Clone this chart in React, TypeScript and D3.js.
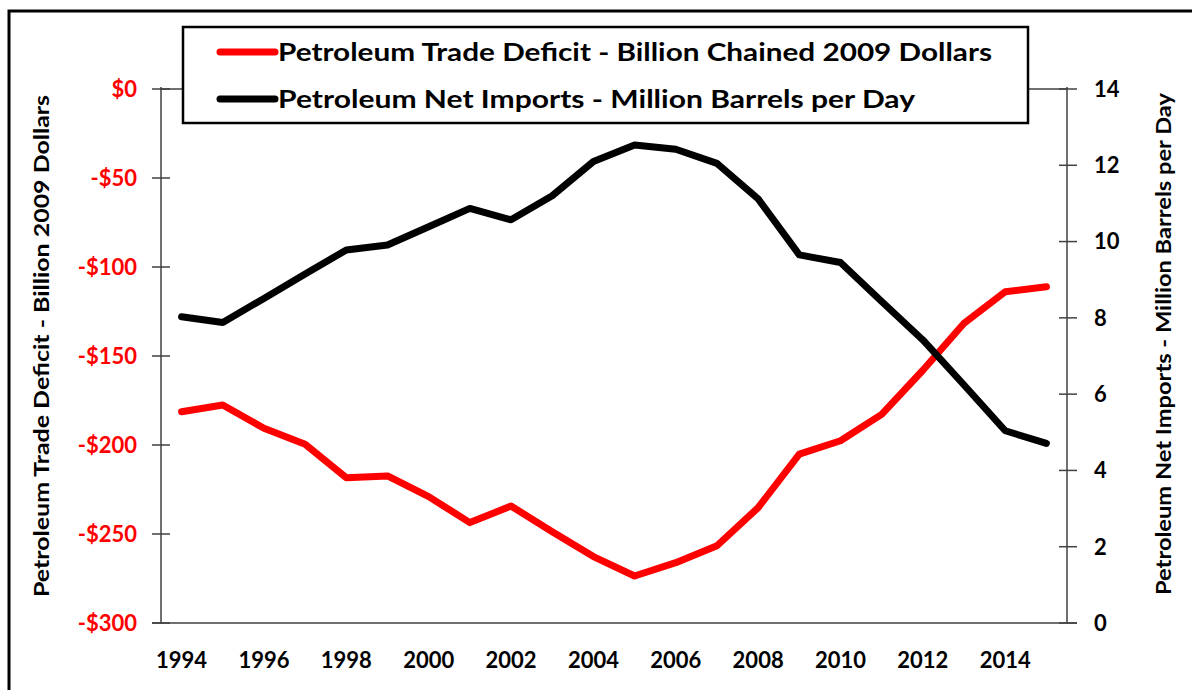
import * as d3 from "d3";

const years = [
  1994, 1995, 1996, 1997, 1998, 1999, 2000, 2001, 2002, 2003, 2004,
  2005, 2006, 2007, 2008, 2009, 2010, 2011, 2012, 2013, 2014, 2015,
];

// Petroleum trade deficit, billion chained 2009 dollars
const tradeDeficit = [
  -181.3, -177.5, -190.6, -199.6, -218.4, -217.4, -229.0, -243.6, -234.3, -248.7, -262.7,
  -273.6, -266.1, -256.6, -235.2, -205.1, -197.6, -182.8, -158.0, -131.6, -113.9, -111.1,
];

// Petroleum net imports, million barrels per day
const netImports = [
  8.03, 7.88, 8.51, 9.15, 9.78, 9.91, 10.39, 10.87, 10.57, 11.2, 12.1,
  12.53, 12.42, 12.05, 11.12, 9.65, 9.45, 8.43, 7.42, 6.24, 5.04, 4.71,
];

const leftTicks = [0, -50, -100, -150, -200, -250, -300];
const rightTicks = [0, 2, 4, 6, 8, 10, 12, 14];
const xLabelYears = [1994, 1996, 1998, 2000, 2002, 2004, 2006, 2008, 2010, 2012, 2014];

const FONT = "Lato, 'Noto Sans', sans-serif";

export default function App() {
  const width = 1192;
  const height = 690;
  const left = 161;
  const right = 1067;
  const top = 89;
  const bottom = 623;

  const x = d3
    .scaleBand<number>()
    .domain(years)
    .range([left, right]);
  const cx = (yr: number) => (x(yr) ?? 0) + x.bandwidth() / 2;

  const yL = d3.scaleLinear().domain([-300, 0]).range([bottom, top]);
  const yR = d3.scaleLinear().domain([0, 14]).range([bottom, top]);

  const redLine = d3
    .line<number>()
    .x((_, i) => cx(years[i]))
    .y((d) => yL(d));
  const blackLine = d3
    .line<number>()
    .x((_, i) => cx(years[i]))
    .y((d) => yR(d));

  const axisColor = "#404040";
  const fmtL = (v: number) => (v < 0 ? `-$${Math.abs(v)}` : `$${v}`);

  return (
    <svg
      width={width}
      height={height}
      style={{ position: "absolute", left: 0, top: 0, background: "#fff" }}
    >
      <rect x={9} y={11} width={1300} height={800} fill="#fff" stroke="#000" strokeWidth={3} />

      {/* axes */}
      <line x1={left} x2={right} y1={top} y2={top} stroke={axisColor} strokeWidth={1.5} />
      <line x1={152} x2={1077} y1={bottom} y2={bottom} stroke={axisColor} strokeWidth={1.5} />
      <line x1={left} x2={left} y1={top - 2} y2={bottom} stroke={axisColor} strokeWidth={1.5} />
      <line x1={right} x2={right} y1={top - 2} y2={bottom} stroke={axisColor} strokeWidth={1.5} />

      {leftTicks.map((t) => (
        <g key={"l" + t}>
          <line x1={152} x2={170} y1={yL(t)} y2={yL(t)} stroke={axisColor} strokeWidth={1.5} />
          <text
            x={137}
            y={yL(t)}
            dy="0.36em"
            textAnchor="end"
            fill="#ff0000"
            fontFamily={FONT}
            fontWeight="bold"
            fontSize={22}
          >
            {fmtL(t)}
          </text>
        </g>
      ))}

      {rightTicks.map((t) => (
        <g key={"r" + t}>
          <line x1={1059} x2={1077} y1={yR(t)} y2={yR(t)} stroke={axisColor} strokeWidth={1.5} />
          <text
            x={1094}
            y={yR(t)}
            dy="0.36em"
            textAnchor="start"
            fill="#000"
            fontFamily={FONT}
            fontWeight="bold"
            fontSize={22}
          >
            {t}
          </text>
        </g>
      ))}

      {xLabelYears.map((yr) => (
        <text
          key={"x" + yr}
          x={cx(yr)}
          y={668}
          textAnchor="middle"
          fill="#000"
          fontFamily={FONT}
          fontWeight="bold"
          fontSize={22}
        >
          {yr}
        </text>
      ))}

      {/* axis titles */}
      <text
        transform="translate(49,346) rotate(-90)"
        textAnchor="middle"
        fontFamily={FONT}
        fontWeight="bold"
        fontSize={21}
        fill="#000"
        textLength={502}
        lengthAdjust="spacingAndGlyphs"
      >
        Petroleum Trade Deficit - Billion 2009 Dollars
      </text>
      <text
        transform="translate(1171,344) rotate(-90)"
        textAnchor="middle"
        fontFamily={FONT}
        fontWeight="bold"
        fontSize={21}
        fill="#000"
        textLength={502}
        lengthAdjust="spacingAndGlyphs"
      >
        Petroleum Net Imports - Million Barrels per Day
      </text>

      {/* series */}
      <path d={redLine(tradeDeficit) ?? ""} fill="none" stroke="#ff0000" strokeWidth={7} strokeLinejoin="round" strokeLinecap="round" />
      <path d={blackLine(netImports) ?? ""} fill="none" stroke="#000" strokeWidth={7} strokeLinejoin="round" strokeLinecap="round" />

      {/* legend */}
      <rect x={183} y={27} width={845} height={96} fill="#fff" stroke="#000" strokeWidth={2.5} />
      <line x1={220} x2={275} y1={52} y2={52} stroke="#ff0000" strokeWidth={7} strokeLinecap="round" />
      <line x1={220} x2={275} y1={99} y2={99} stroke="#000" strokeWidth={7} strokeLinecap="round" />
      <text
        x={278}
        y={61}
        fontFamily={FONT}
        fontWeight="bold"
        fontSize={25}
        fill="#000"
        textLength={714}
        lengthAdjust="spacingAndGlyphs"
      >
        Petroleum Trade Deficit - Billion Chained 2009 Dollars
      </text>
      <text
        x={278}
        y={108}
        fontFamily={FONT}
        fontWeight="bold"
        fontSize={25}
        fill="#000"
        textLength={637}
        lengthAdjust="spacingAndGlyphs"
      >
        Petroleum Net Imports - Million Barrels per Day
      </text>
    </svg>
  );
}
